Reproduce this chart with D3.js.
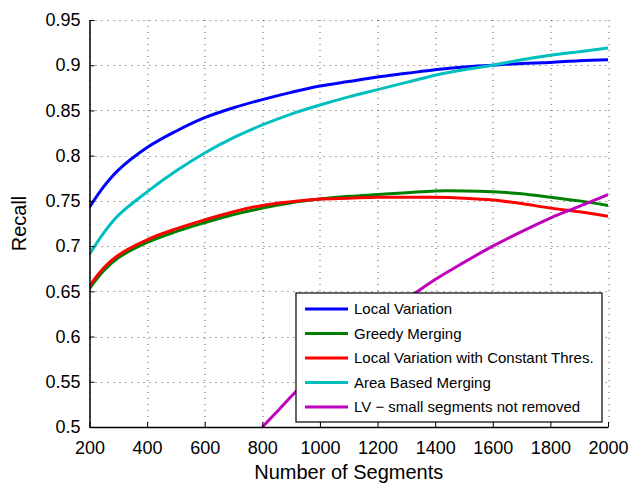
<!DOCTYPE html>
<meta charset="utf-8">
<script src="https://d3js.org/d3.v7.min.js"></script>
<style>
  body { margin: 0; background: #fff; }
  svg { font-family: "Liberation Sans", Arial, sans-serif; }
  .grid line { stroke: #000; stroke-opacity: 0.65; stroke-dasharray: 1,5; }
</style>
<body>
<script>

// number of segments (x)
var segments = [200, 250, 300, 400, 500, 600, 700, 800, 900, 1000, 1100, 1200, 1300, 1400, 1500, 1600, 1700, 1800, 1900, 2000];

// recall values, one per segment count
var localVariation = [0.743, 0.766, 0.784, 0.809, 0.827, 0.842, 0.853, 0.862, 0.870, 0.877, 0.882, 0.887, 0.891, 0.895, 0.898, 0.900, 0.902, 0.903, 0.905, 0.906];
var greedyMerging  = [0.653, 0.673, 0.687, 0.704, 0.716, 0.726, 0.735, 0.742, 0.748, 0.752, 0.755, 0.757, 0.759, 0.761, 0.761, 0.760, 0.758, 0.754, 0.750, 0.745];
var lvConstant     = [0.656, 0.676, 0.690, 0.707, 0.719, 0.729, 0.738, 0.745, 0.749, 0.752, 0.753, 0.754, 0.754, 0.754, 0.753, 0.751, 0.747, 0.742, 0.738, 0.733];
var areaBased      = [0.691, 0.715, 0.734, 0.760, 0.783, 0.803, 0.820, 0.834, 0.846, 0.856, 0.865, 0.873, 0.881, 0.889, 0.895, 0.900, 0.906, 0.911, 0.915, 0.919];

// the last curve starts at 800 segments
var lvSmallSegments = [800, 860, 910, 1000, 1100, 1200, 1300, 1400, 1500, 1600, 1700, 1800, 1900, 2000];
var lvSmallRecall   = [0.500, 0.520, 0.537, 0.566, 0.592, 0.617, 0.641, 0.663, 0.682, 0.700, 0.716, 0.731, 0.744, 0.757];

var seriesNames  = ["Local Variation", "Greedy Merging", "Local Variation with Constant Thres.", "Area Based Merging", "LV \u2212 small segments not removed"];
var seriesColors = ["#0000ff", "#008000", "#ff0000", "#00bfbf", "#bf00bf"];

var xTicks = [200, 400, 600, 800, 1000, 1200, 1400, 1600, 1800, 2000];
var yTicks = [0.5, 0.55, 0.6, 0.65, 0.7, 0.75, 0.8, 0.85, 0.9, 0.95];

var width = 629, height = 488;
var margin = {top: 20, right: 21, bottom: 61, left: 89.5};
var innerW = width - margin.left - margin.right,
    innerH = height - margin.top - margin.bottom;

var series = [
  {name: seriesNames[0], color: seriesColors[0], values: segments.map(function(s, i) { return [s, localVariation[i]]; })},
  {name: seriesNames[1], color: seriesColors[1], values: segments.map(function(s, i) { return [s, greedyMerging[i]]; })},
  {name: seriesNames[2], color: seriesColors[2], values: segments.map(function(s, i) { return [s, lvConstant[i]]; })},
  {name: seriesNames[3], color: seriesColors[3], values: segments.map(function(s, i) { return [s, areaBased[i]]; })},
  {name: seriesNames[4], color: seriesColors[4], values: lvSmallSegments.map(function(s, i) { return [s, lvSmallRecall[i]]; })}
];

var x = d3.scaleLinear().domain([200, 2000]).range([0, innerW]);
var y = d3.scaleLinear().domain([0.5, 0.95]).range([innerH, 0]);

var svg = d3.select("body").append("svg")
    .attr("width", width)
    .attr("height", height);

var g = svg.append("g")
    .attr("transform", "translate(" + margin.left + "," + margin.top + ")");

g.append("clipPath").attr("id", "clip")
  .append("rect").attr("width", innerW).attr("height", innerH);

// dotted grid
g.append("g").attr("class", "grid")
  .selectAll("line").data(yTicks).enter().append("line")
    .attr("x1", 0).attr("x2", innerW)
    .attr("y1", function(d) { return Math.round(y(d)) + 0.5; })
    .attr("y2", function(d) { return Math.round(y(d)) + 0.5; });

g.append("g").attr("class", "grid")
  .selectAll("line").data(xTicks).enter().append("line")
    .attr("y1", 0).attr("y2", innerH)
    .attr("x1", function(d) { return Math.round(x(d)) + 0.5; })
    .attr("x2", function(d) { return Math.round(x(d)) + 0.5; });

// curves
var line = d3.line()
    .x(function(d) { return x(d[0]); })
    .y(function(d) { return y(d[1]); })
    .curve(d3.curveCatmullRom);

g.append("g").attr("clip-path", "url(#clip)")
  .selectAll("path").data(series).enter().append("path")
    .attr("fill", "none")
    .attr("stroke", function(d) { return d.color; })
    .attr("stroke-width", 3)
    .attr("d", function(d) { return line(d.values); });

// axes, ticks inward like matlab
var xAxis = g.append("g")
    .attr("transform", "translate(0," + innerH + ")")
    .call(d3.axisBottom(x).tickValues(xTicks).tickSizeInner(-5).tickSizeOuter(0).tickPadding(10)
      .tickFormat(d3.format("d")));
var yAxis = g.append("g")
    .call(d3.axisLeft(y).tickValues(yTicks).tickSizeInner(-5).tickSizeOuter(0).tickPadding(9)
      .tickFormat(function(d) { return String(+d.toFixed(2)); }));

[xAxis, yAxis].forEach(function(a) {
  a.selectAll("text").attr("font-size", "18px").attr("fill", "#000").attr("font-family", "Liberation Sans, Arial, sans-serif");
  a.selectAll("line").attr("stroke", "#000");
  a.select(".domain").attr("stroke", "#000").attr("stroke-width", 1.5);
});
xAxis.selectAll("text").attr("dy", "0.95em");

// axis titles
svg.append("text")
    .attr("x", margin.left + innerW / 2)
    .attr("y", 479)
    .attr("text-anchor", "middle")
    .attr("font-size", "20px")
    .text("Number of Segments");

svg.append("text")
    .attr("transform", "translate(26," + (margin.top + innerH / 2) + ") rotate(-90)")
    .attr("text-anchor", "middle")
    .attr("font-size", "20px")
    .text("Recall");

// legend
var legend = g.append("g")
    .attr("transform", "translate(" + (296 - margin.left) + "," + (293 - margin.top) + ")");

legend.append("rect")
    .attr("width", 306).attr("height", 129)
    .attr("fill", "#fff")
    .attr("stroke", "#000")
    .attr("stroke-width", 1.2);

var item = legend.selectAll(".item").data(series).enter().append("g")
    .attr("class", "item")
    .attr("transform", function(d, i) { return "translate(0," + (16 + i * 24.5) + ")"; });

item.append("line")
    .attr("x1", 9).attr("x2", 52)
    .attr("stroke", function(d) { return d.color; })
    .attr("stroke-width", 3);

item.append("text")
    .attr("x", 58)
    .attr("dy", "0.35em")
    .attr("font-size", "15px")
    .text(function(d) { return d.name; });

</script>
</body>
